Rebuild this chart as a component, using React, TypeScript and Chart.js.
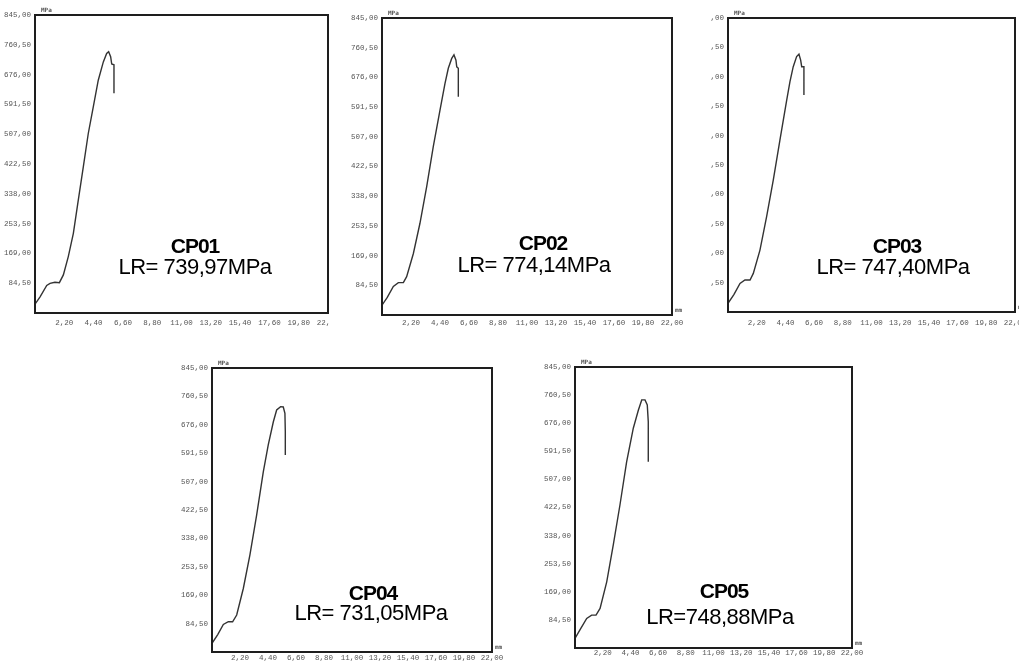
import React, { useEffect, useRef } from 'react';
import { Chart, registerables } from 'chart.js';
Chart.register(...registerables);

const specimens = ['CP01', 'CP02', 'CP03', 'CP04', 'CP05'];
const lrLabels = ['LR= 739,97MPa', 'LR= 774,14MPa', 'LR= 747,40MPa', 'LR= 731,05MPa', 'LR=748,88MPa'];
const yUnit = 'MPa';
const xUnit = 'mm';
const yTicks = [84.5, 169, 253.5, 338, 422.5, 507, 591.5, 676, 760.5, 845];
const xTicks = [2.2, 4.4, 6.6, 8.8, 11, 13.2, 15.4, 17.6, 19.8, 22];

const cp01Strain = [0, 0.38, 0.88, 1.13, 1.5, 1.83, 2.13, 2.5, 2.88, 3.25, 3.63, 4.0, 4.38, 4.75, 5.13, 5.38, 5.53, 5.68, 5.76, 5.93, 5.93];
const cp01Stress = [25, 46, 78, 84, 87, 86, 108, 160, 226, 320, 415, 509, 585, 660, 712, 736, 741, 727, 706, 704, 623];
const cp02Strain = [0, 0.4, 0.86, 1.24, 1.62, 1.87, 2.38, 2.88, 3.39, 3.89, 4.4, 4.78, 5.03, 5.29, 5.46, 5.61, 5.67, 5.79, 5.79];
const cp02Stress = [28, 50, 81, 92, 92, 109, 175, 261, 365, 479, 583, 659, 702, 730, 740, 725, 706, 702, 621];
const cp03Strain = [0, 0.45, 0.92, 1.3, 1.69, 1.94, 2.45, 2.96, 3.47, 3.98, 4.5, 4.75, 5.0, 5.26, 5.44, 5.57, 5.65, 5.82, 5.82];
const cp03Stress = [25, 50, 82, 92, 92, 111, 178, 274, 379, 494, 609, 662, 705, 734, 741, 724, 705, 705, 624];
const cp04Strain = [0, 0.45, 0.89, 1.28, 1.62, 1.94, 2.46, 2.98, 3.51, 4.03, 4.42, 4.82, 5.08, 5.39, 5.6, 5.73, 5.76, 5.76];
const cp04Stress = [26, 52, 82, 90, 90, 110, 189, 289, 408, 536, 616, 685, 720, 730, 729, 710, 655, 586];
const cp05Strain = [0, 0.45, 0.93, 1.32, 1.67, 1.99, 2.52, 3.04, 3.57, 4.1, 4.63, 5.03, 5.3, 5.56, 5.74, 5.82, 5.82];
const cp05Stress = [29, 58, 89, 99, 99, 119, 199, 310, 430, 560, 661, 715, 746, 746, 731, 680, 560];

const strains = [cp01Strain, cp02Strain, cp03Strain, cp04Strain, cp05Strain];
const stresses = [cp01Stress, cp02Stress, cp03Stress, cp04Stress, cp05Stress];

// layout (page pixel coordinates)
const panels = [
  { box: [35, 15, 328, 313], clip: [0, 0, 330, 335], xPad: 6, cp: [195, 245], lr: [195, 267] },
  { box: [382, 18, 672, 315], clip: [345, 0, 690, 335], xPad: 4, cp: [543, 242], lr: [534, 265] },
  { box: [728, 18, 1015, 312], clip: [711, 0, 1019, 335], xPad: 7, cp: [897, 245], lr: [893, 267] },
  { box: [212, 368, 492, 652], clip: [160, 355, 510, 661], xPad: 2, cp: [373, 592], lr: [371, 613] },
  { box: [575, 367, 852, 648], clip: [530, 355, 870, 661], xPad: 1, cp: [724, 590], lr: [720, 617] },
];

const LEFT = 50, TOP = 15, RIGHT = 22, BOTTOM = 20;
const fmt = (v: number) => v.toFixed(2).replace('.', ',');

const framePlugin = {
  id: 'frame',
  afterDraw(chart: any) {
    const { ctx, chartArea: a } = chart;
    ctx.save();
    ctx.strokeStyle = '#1e1e1e';
    ctx.lineWidth = 2;
    ctx.strokeRect(a.left, a.top, a.right - a.left, a.bottom - a.top);
    ctx.fillStyle = '#555';
    ctx.font = 'bold 6px "DejaVu Sans Mono"';
    ctx.textBaseline = 'bottom';
    ctx.textAlign = 'left';
    ctx.fillText(yUnit, a.left + 6, a.top - 2);
    ctx.fillText(xUnit, a.right + 3, a.bottom - 2);
    ctx.restore();
  },
};

function Panel({ idx }: { idx: number }) {
  const ref = useRef<HTMLCanvasElement>(null);
  const p = panels[idx];
  const [l, t, r, b] = p.box;
  const [cx0, cy0, cx1, cy1] = p.clip;
  const W = r - l + LEFT + RIGHT;
  const H = b - t + TOP + BOTTOM;

  useEffect(() => {
    if (!ref.current) return;
    const tickFont = { family: '"Liberation Mono", "DejaVu Sans Mono", monospace', size: 7.5 };
    const chart = new Chart(ref.current, {
      type: 'line',
      data: {
        datasets: [
          {
            data: strains[idx].map((x, i) => ({ x, y: stresses[idx][i] })),
            borderColor: '#333',
            borderWidth: 1.4,
            pointRadius: 0,
            tension: 0,
            fill: false,
          },
        ],
      },
      options: {
        animation: false,
        responsive: false,
        devicePixelRatio: 1,
        layout: { padding: { left: 0, top: TOP, right: RIGHT, bottom: 0 } },
        plugins: { legend: { display: false }, tooltip: { enabled: false } },
        scales: {
          x: {
            type: 'linear',
            min: 0,
            max: 22,
            grid: { display: false, drawTicks: false },
            border: { display: false },
            afterBuildTicks: (s: any) => { s.ticks = xTicks.map((v) => ({ value: v })); },
            afterFit: (s: any) => { s.height = BOTTOM; },
            ticks: {
              autoSkip: false,
              maxRotation: 0,
              padding: p.xPad,
              color: '#555',
              font: tickFont,
              callback: (v: any) => fmt(Number(v)),
            },
          },
          y: {
            type: 'linear',
            min: 0,
            max: 845,
            grid: { display: false, drawTicks: false },
            border: { display: false },
            afterBuildTicks: (s: any) => { s.ticks = yTicks.map((v) => ({ value: v })); },
            afterFit: (s: any) => { s.width = LEFT; },
            ticks: {
              autoSkip: false,
              padding: 4,
              color: '#555',
              font: tickFont,
              callback: (v: any) => fmt(Number(v)),
            },
          },
        },
      },
      plugins: [framePlugin],
    } as any);
    return () => chart.destroy();
  }, [idx]);

  return (
    <div
      style={{
        position: 'absolute',
        left: cx0,
        top: cy0,
        width: cx1 - cx0,
        height: cy1 - cy0,
        overflow: 'hidden',
      }}
    >
      <canvas
        ref={ref}
        width={W}
        height={H}
        style={{ position: 'absolute', left: l - LEFT - cx0, top: t - TOP - cy0, width: W, height: H }}
      />
    </div>
  );
}

const textBase: React.CSSProperties = {
  position: 'absolute',
  transform: 'translate(-50%, -50%)',
  whiteSpace: 'nowrap',
  fontFamily: '"Liberation Sans", Arial, sans-serif',
  color: '#000',
  lineHeight: 1,
};

export default function App() {
  return (
    <div style={{ position: 'fixed', left: 0, top: 0, width: 1019, height: 661, background: '#fff', overflow: 'hidden' }}>
      {panels.map((_, i) => (
        <Panel key={i} idx={i} />
      ))}
      {panels.map((p, i) => (
        <React.Fragment key={'t' + i}>
          <div style={{ ...textBase, left: p.cp[0], top: p.cp[1], fontSize: 21, fontWeight: 'bold', letterSpacing: -1 }}>
            {specimens[i]}
          </div>
          <div style={{ ...textBase, left: p.lr[0], top: p.lr[1], fontSize: 22, letterSpacing: -0.5 }}>
            {lrLabels[i]}
          </div>
        </React.Fragment>
      ))}
    </div>
  );
}
